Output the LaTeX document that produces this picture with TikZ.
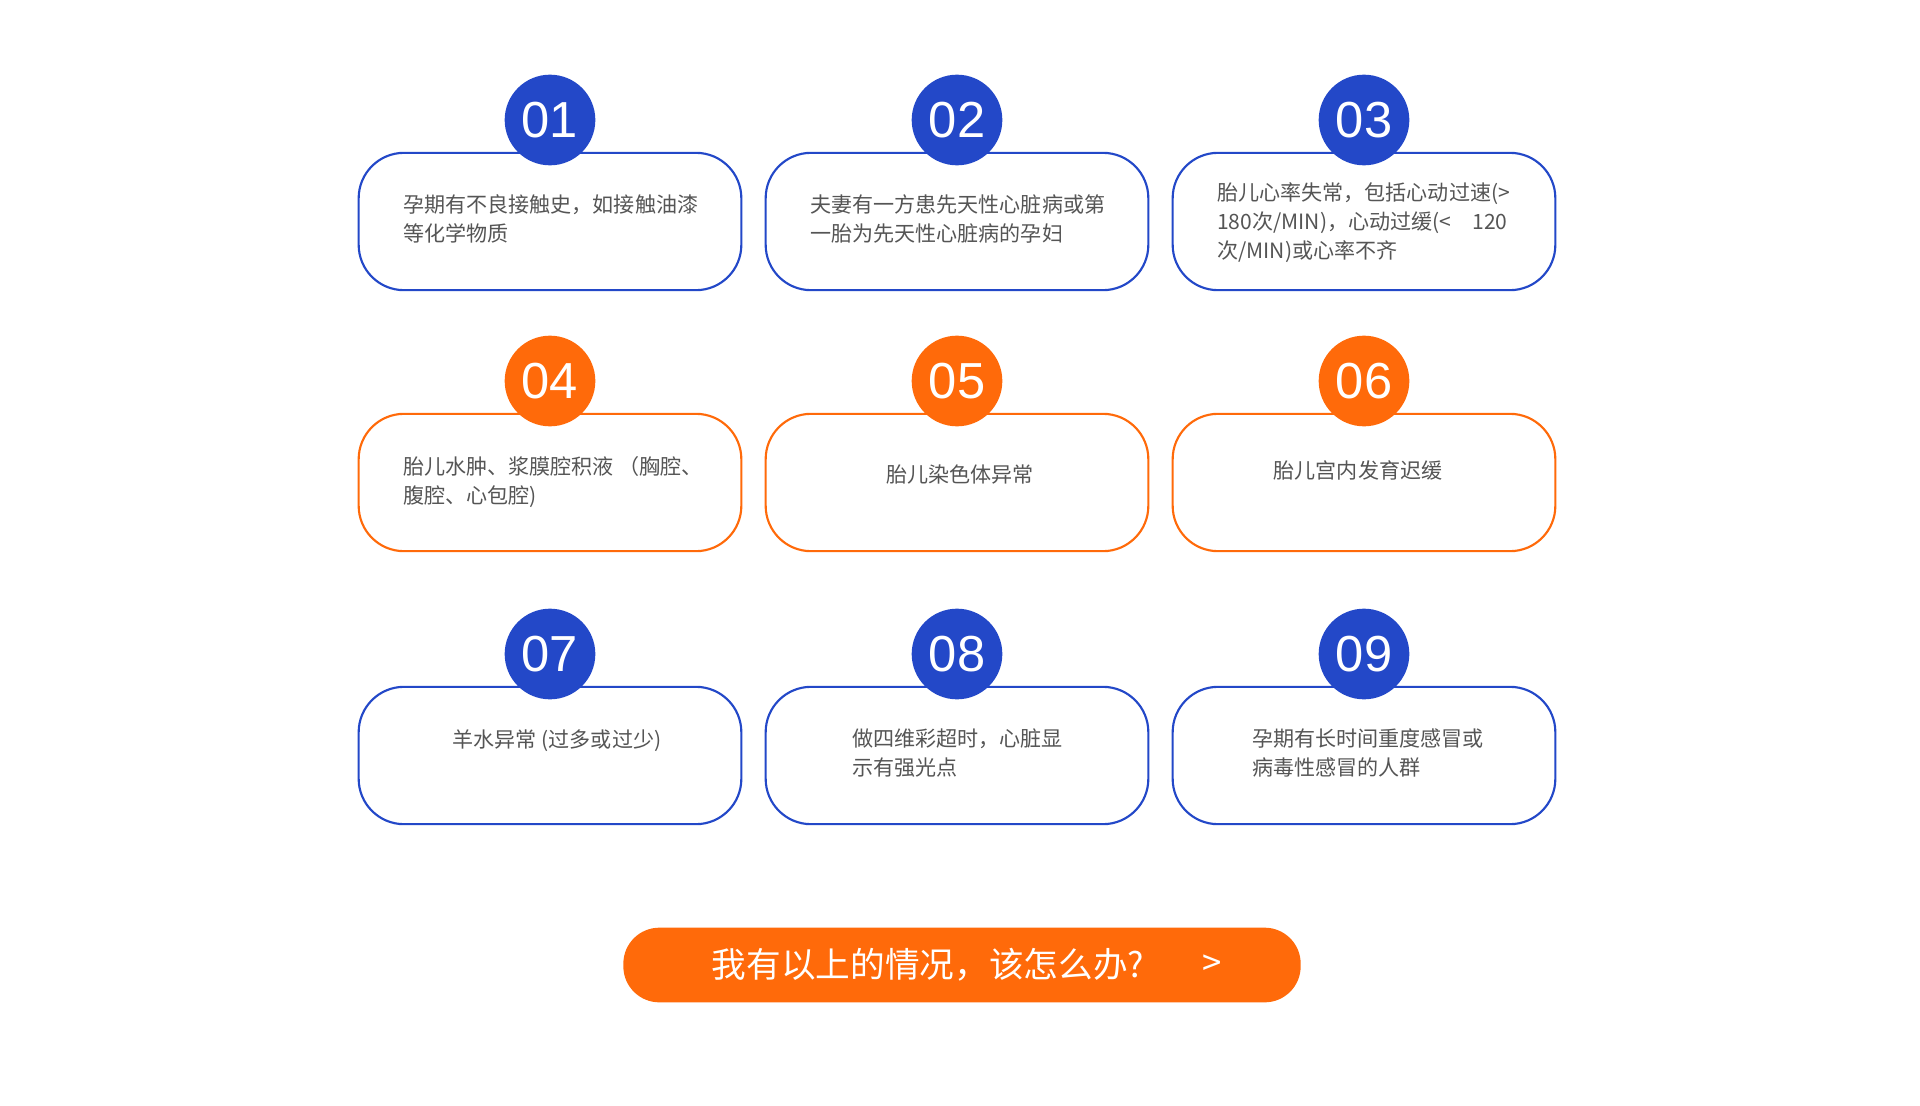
\documentclass[tikz,border=0pt]{standalone}
\usepackage{fontspec}
\setmainfont{Liberation Sans}
\newfontfamily\cjk{Noto Sans CJK SC}
\usetikzlibrary{positioning}
\definecolor{bluec}{HTML}{2348C8}
\definecolor{orangec}{HTML}{FF6A0A}
\definecolor{txtc}{HTML}{555555}
\tikzset{
  card/.style={draw=#1, line width=1.6pt, rounded corners=34pt, fill=white,
    minimum width=287pt, minimum height=103pt},
  badge/.style={circle, fill=#1, minimum size=68pt, inner sep=0pt,
    text=white, font=\fontsize{38pt}{40pt}\selectfont},
  note/.style={text=txtc, font=\cjk\fontsize{15.8pt}{22pt}\selectfont, align=left, inner sep=0pt}
}
\begin{document}
\begin{tikzpicture}[x=0.75pt,y=-0.75pt]
\useasboundingbox (0,0) rectangle (1920,1106);

% cards
\node (c1)[card=bluec] at (550,221.5){};
\node (c2)[card=bluec] at (957,221.5){};
\node (c3)[card=bluec] at (1364,221.5){};
\node (c4)[card=orangec] at (550,482.5){};
\node (c5)[card=orangec] at (957,482.5){};
\node (c6)[card=orangec] at (1364,482.5){};
\node (c7)[card=bluec] at (550,755.5){};
\node (c8)[card=bluec] at (957,755.5){};
\node (c9)[card=bluec] at (1364,755.5){};

% badges
\node (b1)[badge=bluec] at (550,120){01};
\node (b2)[badge=bluec] at (957,120){02};
\node (b3)[badge=bluec] at (1364,120){03};
\node (b4)[badge=orangec] at (550,381){04};
\node (b5)[badge=orangec] at (957,381){05};
\node (b6)[badge=orangec] at (1364,381){06};
\node (b7)[badge=bluec] at (550,654){07};
\node (b8)[badge=bluec] at (957,654){08};
\node (b9)[badge=bluec] at (1364,654){09};

% texts
\node (t1)[note, anchor=north west] at (403,194){孕期有不良接触史，如接触油漆\\等化学物质};
\node (t2)[note, anchor=north west] at (810,194){夫妻有一方患先天性心脏病或第\\一胎为先天性心脏病的孕妇};
\node (t3)[note, anchor=north west] at (1217,182){胎儿心率失常，包括心动过速(>\\180次/MIN)，心动过缓(<\quad 120\\次/MIN)或心率不齐};
\node (t4)[note, anchor=north west] at (403,456){胎儿水肿、浆膜腔积液\ （胸腔、\\腹腔、心包腔)};
\node (t5)[note] at (960,474){胎儿染色体异常};
\node (t6)[note] at (1358,470){胎儿宫内发育迟缓};
\node (t7)[note] at (557,741){羊水异常 (过多或过少)};
\node (t8)[note, anchor=north west] at (852,728){做四维彩超时，心脏显\\示有强光点};
\node (t9)[note, anchor=north west] at (1252,728){孕期有长时间重度感冒或\\病毒性感冒的人群};

% button
\node (btn)[fill=orangec, rounded corners=27pt, minimum width=508pt, minimum height=56pt] at (962,965){};
\node (ask)[text=white, font=\cjk\fontsize{26pt}{28pt}\selectfont] at (928,965){我有以上的情况，该怎么办?};
\node (go)[text=white, font=\cjk\fontsize{26pt}{28pt}\selectfont] at (1212,965){>};
\end{tikzpicture}
\end{document}
